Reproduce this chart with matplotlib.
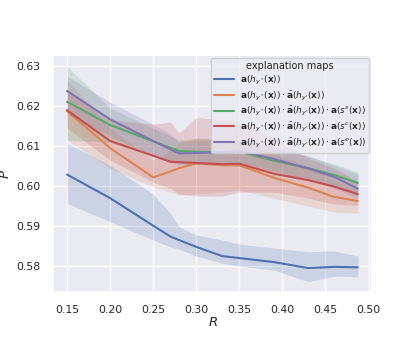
import numpy as np
import matplotlib
matplotlib.use("Agg")
import matplotlib.pyplot as plt
import seaborn as sns

# --- data ---
R = [0.15, 0.20, 0.25, 0.27, 0.28, 0.30, 0.33, 0.35, 0.39, 0.43, 0.46, 0.4875]

p_base = [0.6029, 0.5970, 0.5901, 0.5874, 0.5865, 0.5848, 0.5825, 0.5820, 0.5810, 0.5795, 0.5798, 0.5797]
p_base_lo = [0.5957, 0.5911, 0.5865, 0.5848, 0.5842, 0.5825, 0.5807, 0.5800, 0.5790, 0.5761, 0.5775, 0.5773]
p_base_hi = [0.6107, 0.6052, 0.5980, 0.5932, 0.5898, 0.5878, 0.5865, 0.5855, 0.5845, 0.5836, 0.5838, 0.5825]

p_bar = [0.6188, 0.6095, 0.6022, 0.6037, 0.6045, 0.6057, 0.6052, 0.6052, 0.6021, 0.5996, 0.5973, 0.5963]
p_bar_lo = [0.6115, 0.6045, 0.5998, 0.5985, 0.5978, 0.5980, 0.5985, 0.5990, 0.5970, 0.5950, 0.5935, 0.5932]
p_bar_hi = [0.6265, 0.6145, 0.6065, 0.6090, 0.6110, 0.6120, 0.6115, 0.6110, 0.6080, 0.6050, 0.6015, 0.5995]

p_s = [0.6211, 0.6153, 0.6112, 0.6096, 0.6088, 0.6086, 0.6084, 0.6086, 0.6064, 0.6045, 0.6028, 0.6008]
p_s_lo = [0.6115, 0.6110, 0.6075, 0.6060, 0.6055, 0.6055, 0.6055, 0.6058, 0.6035, 0.6015, 0.6000, 0.5980]
p_s_hi = [0.6300, 0.6195, 0.6145, 0.6125, 0.6115, 0.6120, 0.6118, 0.6115, 0.6095, 0.6075, 0.6055, 0.6036]

p_c = [0.6190, 0.6113, 0.6076, 0.6061, 0.6060, 0.6058, 0.6055, 0.6056, 0.6031, 0.6015, 0.5999, 0.5980]
p_c_lo = [0.6145, 0.6065, 0.6010, 0.5995, 0.5980, 0.5975, 0.5975, 0.5985, 0.5985, 0.5970, 0.5955, 0.5952]
p_c_hi = [0.6235, 0.6165, 0.6155, 0.6160, 0.6133, 0.6172, 0.6165, 0.6162, 0.6120, 0.6070, 0.6045, 0.6012]

p_e = [0.6238, 0.6167, 0.6113, 0.6092, 0.6082, 0.6083, 0.6085, 0.6088, 0.6068, 0.6044, 0.6023, 0.5994]
p_e_lo = [0.6180, 0.6125, 0.6075, 0.6060, 0.6055, 0.6055, 0.6057, 0.6058, 0.6038, 0.6015, 0.5995, 0.5970]
p_e_hi = [0.6275, 0.6210, 0.6155, 0.6130, 0.6110, 0.6115, 0.6115, 0.6118, 0.6098, 0.6075, 0.6052, 0.6030]

labels = [
    r"$\mathbf{a}(h_{y^*}(\mathbf{x}))$",
    r"$\mathbf{a}(h_{y^*}(\mathbf{x}))\cdot\bar{\mathbf{a}}(h_{y'}(\mathbf{x}))$",
    r"$\mathbf{a}(h_{y^*}(\mathbf{x}))\cdot\bar{\mathbf{a}}(h_{y'}(\mathbf{x}))\cdot\mathbf{a}(s^s(\mathbf{x}))$",
    r"$\mathbf{a}(h_{y^*}(\mathbf{x}))\cdot\bar{\mathbf{a}}(h_{y'}(\mathbf{x}))\cdot\mathbf{a}(s^c(\mathbf{x}))$",
    r"$\mathbf{a}(h_{y^*}(\mathbf{x}))\cdot\bar{\mathbf{a}}(h_{y'}(\mathbf{x}))\cdot\mathbf{a}(s^e(\mathbf{x}))$",
]

series = [
    (p_base, p_base_lo, p_base_hi),
    (p_bar, p_bar_lo, p_bar_hi),
    (p_s, p_s_lo, p_s_hi),
    (p_c, p_c_lo, p_c_hi),
    (p_e, p_e_lo, p_e_hi),
]

sns.set_theme(style="darkgrid")
colors = sns.color_palette("deep")

fig = plt.figure(figsize=(4.15, 3.44), dpi=100)
ax = fig.add_axes([0.128, 0.151, 0.768, 0.689])

for i, ((mean, lo, hi), lab) in enumerate(zip(series, labels)):
    ax.fill_between(R, lo, hi, color=colors[i], alpha=0.2, linewidth=0)
    ax.plot(R, mean, color=colors[i], lw=1.5, label=lab)

ax.set_xlim(0.1338, 0.5038)
ax.set_ylim(0.5735, 0.6328)
ax.set_xticks([0.15, 0.20, 0.25, 0.30, 0.35, 0.40, 0.45, 0.50])
ax.set_yticks([0.58, 0.59, 0.60, 0.61, 0.62, 0.63])
ax.tick_params(labelsize=7.8, pad=3)
ax.set_xlabel(r"$R$", fontsize=9.5, labelpad=1)
ax.set_ylabel(r"$P$", fontsize=9.5, labelpad=3)

leg = ax.legend(title="explanation maps", loc="upper right", fontsize=6.5,
                title_fontsize=7, borderaxespad=0.3, handlelength=2.2,
                labelspacing=0.3, borderpad=0.35, handletextpad=0.6)

fig.savefig("out.png", dpi=100)
